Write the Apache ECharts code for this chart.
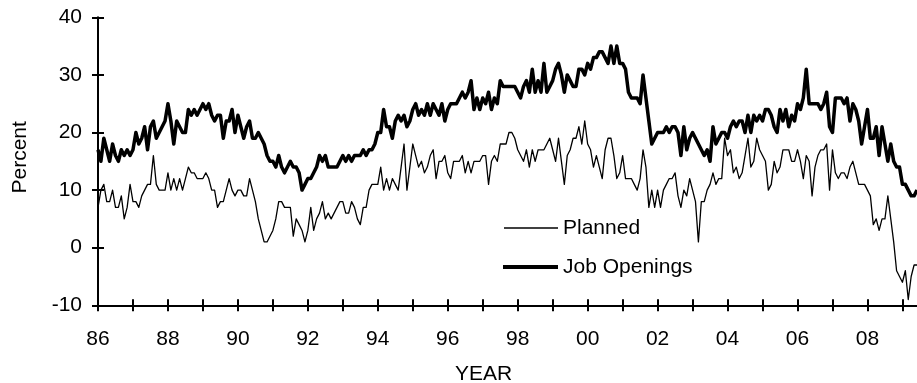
<!DOCTYPE html>
<html><head><meta charset="utf-8">
<script src="https://cdn.jsdelivr.net/npm/echarts@6/dist/echarts.min.js"></script>
<style>html,body{margin:0;padding:0;background:#fff}#c{width:917px;height:383px}</style>
</head><body><div id="c"></div>
<script>
const startYear = 1986;
const monthCount = 282;
const yMin = -10, yMax = 40, yStep = 10;

const planned = [
  7,10,11,8,8,10,7,7,9,5,7,11,
  8,8,7,9,10,11,11,16,11,10,10,10,
  13,10,12,10,12,10,12,14,13,13,12,12,
  12,13,12,10,10,7,8,8,10,12,10,9,
  10,10,9,9,12,10,8,5,3,1,1,2,
  3,5,8,8,7,7,7,2,5,4,3,1,
  3,7,3,5,6,8,5,6,5,6,7,8,
  8,6,6,8,7,5,4,7,7,10,11,11,
  11,14,10,12,10,12,11,10,14,18,10,14,
  18,16,14,15,13,14,16,17,12,15,15,16,
  13,12,15,15,15,16,13,15,13,15,15,15,
  16,16,11,15,16,15,18,18,18,20,20,19,
  17,16,15,17,14,17,15,17,17,17,18,19,
  17,15,19,15,11,16,17,19,19,21,18,22,
  18,17,14,16,14,12,17,19,19,16,12,13,
  16,12,12,12,11,10,12,17,14,7,10,7,
  10,7,10,11,12,12,13,9,7,10,9,12,
  10,8,1,8,8,10,11,13,11,12,12,19,
  16,17,13,14,12,13,16,19,14,15,19,17,
  16,15,10,11,15,13,14,17,17,17,15,15,
  17,15,12,16,15,9,14,16,17,17,18,10,
  17,13,12,13,13,12,14,15,13,11,11,11,
  10,9,4,5,3,5,5,9,5,1,-4,-5,
  -6,-4,-9,-5,-3,-3
];

const jobOpenings = [
  17,15,19,17,15,18,16,15,17,16,17,16,
  17,20,18,19,21,17,21,22,19,20,21,22,
  25,22,18,22,21,20,20,24,23,24,23,24,
  25,24,25,23,22,23,23,19,22,22,24,20,
  23,21,19,21,22,19,19,20,19,18,16,15,
  15,14,16,14,13,14,15,14,14,13,10,11,
  12,12,13,14,16,15,16,14,14,14,14,15,
  16,15,16,15,16,16,16,17,16,17,17,18,
  20,20,24,21,21,19,22,23,22,23,21,22,
  24,25,23,24,23,25,23,25,24,23,25,22,
  24,25,25,25,26,27,26,27,29,24,26,24,
  26,25,27,24,26,25,29,28,28,28,28,28,
  27,26,28,29,27,31,27,29,27,32,27,28,
  29,31,32,30,27,30,29,28,28,31,31,30,
  32,31,33,33,34,34,33,32,35,32,35,32,
  32,31,27,26,26,26,25,30,26,22,18,19,
  20,20,20,21,20,21,21,20,16,21,17,19,
  20,19,18,17,16,17,15,21,18,19,20,20,
  19,21,22,21,22,22,20,23,20,23,22,23,
  22,24,24,23,21,20,24,22,24,21,23,22,
  25,24,26,31,25,25,25,25,24,25,27,21,
  20,26,26,26,25,26,22,25,24,22,18,21,
  24,19,19,21,16,21,18,15,18,15,14,14,
  11,11,10,9,9,10
];

const months = [];
for (let i = 0; i < monthCount; i++) {
  const y = startYear + Math.floor(i / 12);
  const m = (i % 12) + 1;
  months.push(y + '-' + (m < 10 ? '0' : '') + m);
}

const FONT = '"Liberation Sans", Arial, sans-serif';
const FS = 21;
const black = '#000';
const tickEvery = (i) => i % 12 === 0;
const labelEvery = (i) => i % 24 === 0;

const chart = echarts.init(document.getElementById('c'), null, {renderer: 'canvas'});
chart.setOption({
  animation: false,
  backgroundColor: '#fff',
  grid: {left: 98, right: 0, top: 17.3, bottom: 77.7, containLabel: false},
  xAxis: [
    {
      type: 'category', data: months, boundaryGap: false, position: 'bottom',
      axisLine: {show: true, onZero: false, lineStyle: {color: black, width: 2}},
      axisTick: {show: true, interval: tickEvery, length: 6, inside: false, lineStyle: {color: black, width: 2}},
      axisLabel: {interval: labelEvery, formatter: (v) => v.slice(2, 4), color: black, fontSize: FS, fontFamily: FONT, margin: 23},
      splitLine: {show: false}
    },
    {
      type: 'category', data: months, boundaryGap: false, position: 'bottom',
      axisLine: {show: false, onZero: false},
      axisTick: {show: true, interval: tickEvery, length: 6, inside: true, lineStyle: {color: black, width: 2}},
      axisLabel: {show: false},
      splitLine: {show: false}
    }
  ],
  yAxis: [
    {
      type: 'value', min: yMin, max: yMax, interval: yStep, position: 'left',
      axisLine: {show: true, lineStyle: {color: black, width: 2}},
      axisTick: {show: true, length: 6, inside: false, lineStyle: {color: black, width: 2}},
      axisLabel: {color: black, fontSize: FS, fontFamily: FONT, margin: 16},
      splitLine: {show: false},
      name: 'Percent', nameLocation: 'middle', nameGap: 67,
      nameTextStyle: {color: black, fontSize: FS, fontFamily: FONT, padding: [0, 0, 0, 8]}
    },
    {
      type: 'value', min: yMin, max: yMax, interval: yStep, position: 'left',
      axisLine: {show: false},
      axisTick: {show: true, length: 6, inside: true, lineStyle: {color: black, width: 2}},
      axisLabel: {show: false},
      splitLine: {show: false}
    }
  ],
  legend: [
    {
      data: ['Planned'], left: 504, top: 217.5, padding: 0, icon: 'rect', itemWidth: 54, itemHeight: 1.5,
      itemStyle: {borderWidth: 0},
      textStyle: {color: black, fontSize: FS, fontFamily: FONT}
    },
    {
      data: ['Job Openings'], left: 503, top: 256.5, padding: 0, icon: 'rect', itemWidth: 55, itemHeight: 4,
      itemStyle: {borderWidth: 0},
      textStyle: {color: black, fontSize: FS, fontFamily: FONT}
    }
  ],
  graphic: [
    {
      type: 'text', x: 483.5, y: 374,
      style: {text: 'YEAR', fill: black, fontSize: FS, fontFamily: FONT,
        align: 'center', verticalAlign: 'middle', textAlign: 'center', textVerticalAlign: 'middle'}
    }
  ],
  series: [
    {
      name: 'Planned', type: 'line', data: planned, symbol: 'none', xAxisIndex: 0, yAxisIndex: 0,
      lineStyle: {color: black, width: 1.3, join: 'round'}, itemStyle: {color: black}
    },
    {
      name: 'Job Openings', type: 'line', data: jobOpenings, symbol: 'none', xAxisIndex: 0, yAxisIndex: 0,
      lineStyle: {color: black, width: 3.5, join: 'round'}, itemStyle: {color: black}
    }
  ]
});
</script>
</body></html>
